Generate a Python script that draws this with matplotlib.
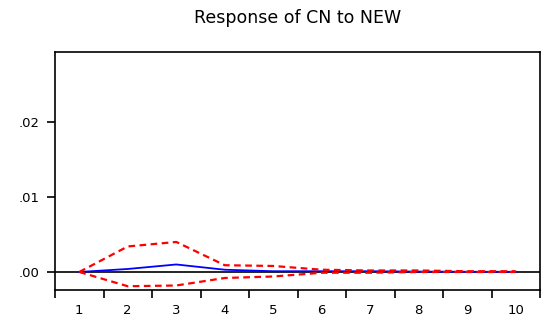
import numpy as np
import matplotlib.pyplot as plt
from matplotlib.ticker import FuncFormatter

# impulse response of CN to NEW, periods 1..10
periods = [1, 2, 3, 4, 5, 6, 7, 8, 9, 10]
response = [0.0, 0.0004, 0.0010, 0.0003, 0.0001, 0.0001, 0.0001, 0.00005, 0.00003, 0.00002]
upper_band = [0.0, 0.0034, 0.0040, 0.0009, 0.0008, 0.0003, 0.0002, 0.0002, 0.0001, 0.0001]
lower_band = [0.0, -0.0019, -0.0018, -0.0008, -0.0006, -0.0001, -0.0001, 0.0, 0.0, 0.0]
yticks = [0.00, 0.01, 0.02]

plt.rcParams["font.family"] = ["DejaVu Sans"]

fig = plt.figure(figsize=(5.44, 3.2), dpi=100)
ax = fig.add_axes([55 / 544, 30 / 320, 485 / 544, 238 / 320])

ax.axhline(0, color="black", linewidth=1.2, zorder=1)
ax.plot(periods, upper_band, color="red", linewidth=1.6, linestyle=(0, (3, 2)), zorder=3)
ax.plot(periods, lower_band, color="red", linewidth=1.6, linestyle=(0, (3, 2)), zorder=3)
ax.plot(periods, response, color="blue", linewidth=1.3, zorder=2)

ax.set_xlim(0.5, 10.5)
ax.set_ylim(-0.0024, 0.0293)

# labels at the periods, tick marks between them
ax.set_xticks(periods)
ax.set_xticks(np.arange(0.5, 11, 1.0), minor=True)
ax.tick_params(axis="x", which="major", length=0, pad=10, labelsize=9.5)
ax.tick_params(axis="x", which="minor", length=6, width=1.2, direction="out")
ax.set_yticks(yticks)
ax.yaxis.set_major_formatter(FuncFormatter(lambda v, p: f"{v:.2f}".lstrip("0")))
ax.tick_params(axis="y", length=6, width=1.2, direction="out", pad=5, labelsize=9.5)

for s in ax.spines.values():
    s.set_linewidth(1.2)

fig.suptitle("Response of CN to NEW", x=298 / 544, y=1 - 18 / 320, va="center", fontsize=12.5)

fig.savefig("out.png", dpi=100)
